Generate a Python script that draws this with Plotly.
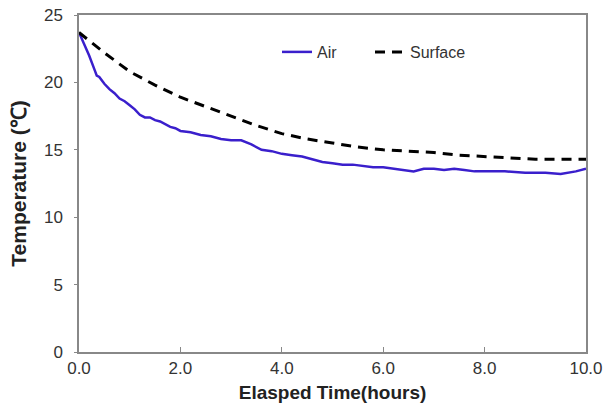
import plotly.graph_objects as go

air_t = [0.0, 0.05, 0.1, 0.2, 0.3, 0.35, 0.4, 0.5, 0.6, 0.7, 0.8, 0.9, 1.0, 1.1, 1.2, 1.3, 1.4, 1.5, 1.6, 1.7,
         1.8, 1.9, 2.0, 2.2, 2.4, 2.6, 2.8, 3.0, 3.2, 3.4, 3.6, 3.8, 4.0, 4.2, 4.4, 4.6, 4.8, 5.0, 5.2, 5.4,
         5.6, 5.8, 6.0, 6.2, 6.4, 6.6, 6.8, 7.0, 7.2, 7.4, 7.6, 7.8, 8.0, 8.4, 8.8, 9.2, 9.5, 9.8, 10.0]
air_v = [23.7, 23.3, 22.8, 22.0, 21.0, 20.5, 20.4, 19.9, 19.5, 19.2, 18.8, 18.6, 18.3, 18.0, 17.6, 17.4, 17.4, 17.2, 17.1, 16.9,
         16.7, 16.6, 16.4, 16.3, 16.1, 16.0, 15.8, 15.7, 15.7, 15.4, 15.0, 14.9, 14.7, 14.6, 14.5, 14.3, 14.1, 14.0, 13.9, 13.9,
         13.8, 13.7, 13.7, 13.6, 13.5, 13.4, 13.6, 13.6, 13.5, 13.6, 13.5, 13.4, 13.4, 13.4, 13.3, 13.3, 13.2, 13.4, 13.6]

surf_t = [0.0, 0.5, 1.0, 1.5, 2.0, 2.5, 3.0, 3.5, 4.0, 4.5, 5.0, 5.5, 6.0, 6.5, 7.0, 7.5, 8.0, 8.5, 9.0, 9.5, 10.0]
surf_v = [23.7, 22.2, 20.8, 19.8, 18.9, 18.2, 17.5, 16.8, 16.2, 15.8, 15.5, 15.2, 15.0, 14.9, 14.8, 14.6, 14.5, 14.4, 14.3, 14.3, 14.3]

x_ticks = [0, 2, 4, 6, 8, 10]
x_labels = ["0.0", "2.0", "4.0", "6.0", "8.0", "10.0"]
y_ticks = [0, 5, 10, 15, 20, 25]

fig = go.Figure()
fig.add_trace(go.Scatter(x=air_t, y=air_v, mode="lines", name="Air",
                         line=dict(color="#3A1FCC", width=2.5), legend="legend"))
fig.add_trace(go.Scatter(x=surf_t, y=surf_v, mode="lines", name="Surface",
                         line=dict(color="black", width=3, dash="10px,7px"), legend="legend2"))

leg_common = dict(orientation="h", yanchor="middle", xanchor="left",
                  bgcolor="rgba(0,0,0,0)", font=dict(size=16, color="#333333"))

fig.update_layout(
    width=610, height=408,
    margin=dict(l=79, r=24, t=15, b=56),
    paper_bgcolor="white", plot_bgcolor="white",
    font=dict(family="Liberation Sans, Arial, sans-serif", size=17, color="#333333"),
    showlegend=True,
    legend=dict(x=(277 - 79) / 507, y=(352 - 52) / 337, **leg_common),
    legend2=dict(x=(370 - 79) / 507, y=(352 - 52) / 337, **leg_common),
    xaxis=dict(range=[0, 10], tickvals=x_ticks, ticktext=x_labels, automargin=False,
               showgrid=False, zeroline=False, showline=True, linecolor="#888888", linewidth=1.5,
               mirror=True, ticks="inside", ticklen=5, tickcolor="#888888",
               title=dict(text="<b>Elasped Time(hours)</b>", font=dict(size=19, color="#222222"), standoff=9)),
    yaxis=dict(range=[0, 25], tickvals=y_ticks, automargin=False,
               showgrid=False, zeroline=False, showline=True, linecolor="#888888", linewidth=1.5,
               mirror=True, ticks="outside", ticklen=3, tickcolor="#888888", ticklabelstandoff=8,
               title=dict(text="<b>Temperature (℃)</b>", font=dict(size=21, color="#222222"), standoff=12)),
)

fig.write_html("out.html")
